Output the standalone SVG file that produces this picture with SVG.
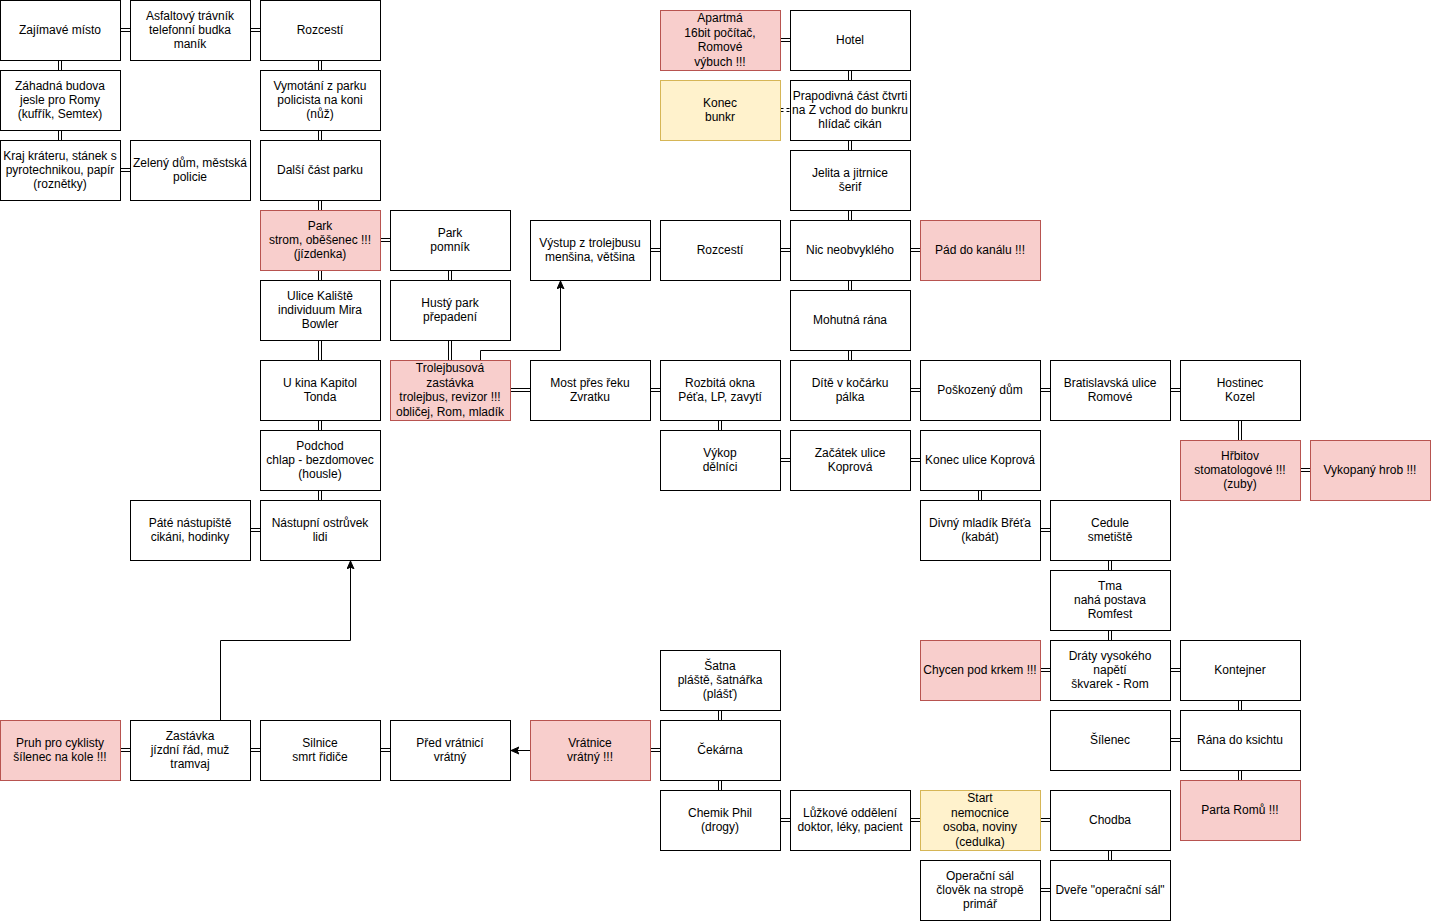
<svg xmlns="http://www.w3.org/2000/svg" width="1432" height="921" viewBox="0 0 1432 921">
<style>
rect{fill:#ffffff;stroke:#000000;stroke-width:1}
rect.red{fill:#f8cecc;stroke:#b85450}
rect.yel{fill:#fff2cc;stroke:#d6b656}
text{font-family:"Liberation Sans",Arial,sans-serif;font-size:12px;fill:#000000;text-anchor:middle}
.lk{fill:none;stroke:#000000;stroke-width:1}
.dash{stroke-dasharray:3 3}
.ar{fill:none;stroke:#000000;stroke-width:1;marker-end:url(#arr)}
</style>
<defs>
<marker id="arr" markerUnits="userSpaceOnUse" markerWidth="10" markerHeight="10" viewBox="0 0 10 10" refX="8" refY="4" orient="auto">
<path d="M0,0.5 L8,4 L0,7.5 L2,4 Z" fill="#000000" stroke="#000000" stroke-width="1"/>
</marker>
</defs>
<rect x="0" y="0" width="1432" height="921" style="fill:#ffffff;stroke:none"/>

<g id="connectors">
<path class="lk" d="M120.5 28.5H130.5M120.5 31.5H130.5M250.5 28.5H260.5M250.5 31.5H260.5"/>
<path class="lk" d="M120.5 168.5H130.5M120.5 171.5H130.5"/>
<path class="lk" d="M380.5 238.5H390.5M380.5 241.5H390.5"/>
<path class="lk" d="M250.5 528.5H260.5M250.5 531.5H260.5"/>
<path class="lk" d="M510.5 388.5H530.5M510.5 391.5H530.5M650.5 388.5H660.5M650.5 391.5H660.5M910.5 388.5H920.5M910.5 391.5H920.5M1040.5 388.5H1050.5M1040.5 391.5H1050.5M1170.5 388.5H1180.5M1170.5 391.5H1180.5"/>
<path class="lk" d="M650.5 248.5H660.5M650.5 251.5H660.5M780.5 248.5H790.5M780.5 251.5H790.5M910.5 248.5H920.5M910.5 251.5H920.5"/>
<path class="lk" d="M780.5 458.5H790.5M780.5 461.5H790.5M910.5 458.5H920.5M910.5 461.5H920.5"/>
<path class="lk" d="M780.5 38.5H790.5M780.5 41.5H790.5"/>
<path class="lk dash" d="M780.5 108.5H790.5M780.5 111.5H790.5"/>
<path class="lk" d="M1300.5 468.5H1310.5M1300.5 471.5H1310.5"/>
<path class="lk" d="M1040.5 528.5H1050.5M1040.5 531.5H1050.5"/>
<path class="lk" d="M1040.5 668.5H1050.5M1040.5 671.5H1050.5M1170.5 668.5H1180.5M1170.5 671.5H1180.5"/>
<path class="lk" d="M1170.5 738.5H1180.5M1170.5 741.5H1180.5"/>
<path class="lk" d="M1040.5 818.5H1050.5M1040.5 821.5H1050.5M910.5 818.5H920.5M910.5 821.5H920.5M780.5 818.5H790.5M780.5 821.5H790.5"/>
<path class="lk" d="M1040.5 888.5H1050.5M1040.5 891.5H1050.5"/>
<path class="lk" d="M650.5 748.5H660.5M650.5 751.5H660.5M380.5 748.5H390.5M380.5 751.5H390.5M250.5 748.5H260.5M250.5 751.5H260.5M120.5 748.5H130.5M120.5 751.5H130.5"/>
<path class="lk" d="M58.5 60.5V70.5M61.5 60.5V70.5M58.5 130.5V140.5M61.5 130.5V140.5"/>
<path class="lk" d="M318.5 60.5V70.5M321.5 60.5V70.5M318.5 130.5V140.5M321.5 130.5V140.5M318.5 200.5V210.5M321.5 200.5V210.5M318.5 270.5V280.5M321.5 270.5V280.5M318.5 340.5V360.5M321.5 340.5V360.5M318.5 420.5V430.5M321.5 420.5V430.5M318.5 490.5V500.5M321.5 490.5V500.5"/>
<path class="lk" d="M448.5 270.5V280.5M451.5 270.5V280.5M448.5 340.5V360.5M451.5 340.5V360.5"/>
<path class="lk" d="M718.5 420.5V430.5M721.5 420.5V430.5M718.5 710.5V720.5M721.5 710.5V720.5M718.5 780.5V790.5M721.5 780.5V790.5"/>
<path class="lk" d="M848.5 70.5V80.5M851.5 70.5V80.5M848.5 140.5V150.5M851.5 140.5V150.5M848.5 210.5V220.5M851.5 210.5V220.5M848.5 280.5V290.5M851.5 280.5V290.5M848.5 350.5V360.5M851.5 350.5V360.5"/>
<path class="lk" d="M1238.5 420.5V440.5M1241.5 420.5V440.5M1238.5 700.5V710.5M1241.5 700.5V710.5M1238.5 770.5V780.5M1241.5 770.5V780.5"/>
<path class="lk" d="M978.5 490.5V500.5M981.5 490.5V500.5"/>
<path class="lk" d="M1108.5 560.5V570.5M1111.5 560.5V570.5M1108.5 630.5V640.5M1111.5 630.5V640.5M1108.5 850.5V860.5M1111.5 850.5V860.5"/>
<path class="ar" d="M480.5 360.5V350.5H560.5V281"/>
<path class="ar" d="M220.5 720.5V640.5H350.5V561"/>
<path class="ar" d="M530.5 750.5H511"/>
</g>

<g id="n1"><rect x="0.5" y="0.5" width="120" height="60"/><text><tspan x="60" y="34">Zajímavé místo</tspan></text></g>
<g id="n2"><rect x="130.5" y="0.5" width="120" height="60"/><text><tspan x="190" y="19.6">Asfaltový trávník</tspan><tspan x="190" y="34">telefonní budka</tspan><tspan x="190" y="48.4">maník</tspan></text></g>
<g id="n3"><rect x="260.5" y="0.5" width="120" height="60"/><text><tspan x="320" y="34">Rozcestí</tspan></text></g>
<g id="n4"><rect x="0.5" y="70.5" width="120" height="60"/><text><tspan x="60" y="89.6">Záhadná budova</tspan><tspan x="60" y="104">jesle pro Romy</tspan><tspan x="60" y="118.4">(kufřík, Semtex)</tspan></text></g>
<g id="n5"><rect x="260.5" y="70.5" width="120" height="60"/><text><tspan x="320" y="89.6">Vymotání z parku</tspan><tspan x="320" y="104">policista na koni</tspan><tspan x="320" y="118.4">(nůž)</tspan></text></g>
<g id="n6"><rect x="0.5" y="140.5" width="120" height="60"/><text><tspan x="60" y="159.6">Kraj kráteru, stánek s</tspan><tspan x="60" y="174">pyrotechnikou, papír</tspan><tspan x="60" y="188.4">(roznětky)</tspan></text></g>
<g id="n7"><rect x="130.5" y="140.5" width="120" height="60"/><text><tspan x="190" y="166.8">Zelený dům, městská</tspan><tspan x="190" y="181.2">policie</tspan></text></g>
<g id="n8"><rect x="260.5" y="140.5" width="120" height="60"/><text><tspan x="320" y="174">Další část parku</tspan></text></g>
<g id="n9"><rect class="red" x="260.5" y="210.5" width="120" height="60"/><text><tspan x="320" y="229.6">Park</tspan><tspan x="320" y="244">strom, oběšenec !!!</tspan><tspan x="320" y="258.4">(jízdenka)</tspan></text></g>
<g id="n10"><rect x="390.5" y="210.5" width="120" height="60"/><text><tspan x="450" y="236.8">Park</tspan><tspan x="450" y="251.2">pomník</tspan></text></g>
<g id="n11"><rect x="260.5" y="280.5" width="120" height="60"/><text><tspan x="320" y="299.6">Ulice Kaliště</tspan><tspan x="320" y="314">individuum Mira</tspan><tspan x="320" y="328.4">Bowler</tspan></text></g>
<g id="n12"><rect x="390.5" y="280.5" width="120" height="60"/><text><tspan x="450" y="306.8">Hustý park</tspan><tspan x="450" y="321.2">přepadení</tspan></text></g>
<g id="n13"><rect x="260.5" y="360.5" width="120" height="60"/><text><tspan x="320" y="386.8">U kina Kapitol</tspan><tspan x="320" y="401.2">Tonda</tspan></text></g>
<g id="n14"><rect class="red" x="390.5" y="360.5" width="120" height="60"/><text><tspan x="450" y="372.4">Trolejbusová</tspan><tspan x="450" y="386.8">zastávka</tspan><tspan x="450" y="401.2">trolejbus, revizor !!!</tspan><tspan x="450" y="415.6">obličej, Rom, mladík</tspan></text></g>
<g id="n15"><rect x="260.5" y="430.5" width="120" height="60"/><text><tspan x="320" y="449.6">Podchod</tspan><tspan x="320" y="464">chlap - bezdomovec</tspan><tspan x="320" y="478.4">(housle)</tspan></text></g>
<g id="n16"><rect x="130.5" y="500.5" width="120" height="60"/><text><tspan x="190" y="526.8">Páté nástupiště</tspan><tspan x="190" y="541.2">cikáni, hodinky</tspan></text></g>
<g id="n17"><rect x="260.5" y="500.5" width="120" height="60"/><text><tspan x="320" y="526.8">Nástupní ostrůvek</tspan><tspan x="320" y="541.2">lidi</tspan></text></g>
<g id="n18"><rect x="530.5" y="220.5" width="120" height="60"/><text><tspan x="590" y="246.8">Výstup z trolejbusu</tspan><tspan x="590" y="261.2">menšina, většina</tspan></text></g>
<g id="n19"><rect x="530.5" y="360.5" width="120" height="60"/><text><tspan x="590" y="386.8">Most přes řeku</tspan><tspan x="590" y="401.2">Zvratku</tspan></text></g>
<g id="n20"><rect x="660.5" y="220.5" width="120" height="60"/><text><tspan x="720" y="254">Rozcestí</tspan></text></g>
<g id="n21"><rect x="660.5" y="360.5" width="120" height="60"/><text><tspan x="720" y="386.8">Rozbitá okna</tspan><tspan x="720" y="401.2">Péťa, LP, zavytí</tspan></text></g>
<g id="n22"><rect x="660.5" y="430.5" width="120" height="60"/><text><tspan x="720" y="456.8">Výkop</tspan><tspan x="720" y="471.2">dělníci</tspan></text></g>
<g id="n23"><rect class="red" x="660.5" y="10.5" width="120" height="60"/><text><tspan x="720" y="22.4">Apartmá</tspan><tspan x="720" y="36.8">16bit počítač,</tspan><tspan x="720" y="51.2">Romové</tspan><tspan x="720" y="65.6">výbuch !!!</tspan></text></g>
<g id="n24"><rect class="yel" x="660.5" y="80.5" width="120" height="60"/><text><tspan x="720" y="106.8">Konec</tspan><tspan x="720" y="121.2">bunkr</tspan></text></g>
<g id="n25"><rect x="790.5" y="10.5" width="120" height="60"/><text><tspan x="850" y="44">Hotel</tspan></text></g>
<g id="n26"><rect x="790.5" y="80.5" width="120" height="60"/><text><tspan x="850" y="99.6">Prapodivná část čtvrti</tspan><tspan x="850" y="114">na Z vchod do bunkru</tspan><tspan x="850" y="128.4">hlídač cikán</tspan></text></g>
<g id="n27"><rect x="790.5" y="150.5" width="120" height="60"/><text><tspan x="850" y="176.8">Jelita a jitrnice</tspan><tspan x="850" y="191.2">šerif</tspan></text></g>
<g id="n28"><rect x="790.5" y="220.5" width="120" height="60"/><text><tspan x="850" y="254">Nic neobvyklého</tspan></text></g>
<g id="n29"><rect class="red" x="920.5" y="220.5" width="120" height="60"/><text><tspan x="980" y="254">Pád do kanálu !!!</tspan></text></g>
<g id="n30"><rect x="790.5" y="290.5" width="120" height="60"/><text><tspan x="850" y="324">Mohutná rána</tspan></text></g>
<g id="n31"><rect x="790.5" y="360.5" width="120" height="60"/><text><tspan x="850" y="386.8">Dítě v kočárku</tspan><tspan x="850" y="401.2">pálka</tspan></text></g>
<g id="n32"><rect x="790.5" y="430.5" width="120" height="60"/><text><tspan x="850" y="456.8">Začátek ulice</tspan><tspan x="850" y="471.2">Koprová</tspan></text></g>
<g id="n33"><rect x="920.5" y="360.5" width="120" height="60"/><text><tspan x="980" y="394">Poškozený dům</tspan></text></g>
<g id="n34"><rect x="920.5" y="430.5" width="120" height="60"/><text><tspan x="980" y="464">Konec ulice Koprová</tspan></text></g>
<g id="n35"><rect x="920.5" y="500.5" width="120" height="60"/><text><tspan x="980" y="526.8">Divný mladík Břéťa</tspan><tspan x="980" y="541.2">(kabát)</tspan></text></g>
<g id="n36"><rect x="1050.5" y="360.5" width="120" height="60"/><text><tspan x="1110" y="386.8">Bratislavská ulice</tspan><tspan x="1110" y="401.2">Romové</tspan></text></g>
<g id="n37"><rect x="1180.5" y="360.5" width="120" height="60"/><text><tspan x="1240" y="386.8">Hostinec</tspan><tspan x="1240" y="401.2">Kozel</tspan></text></g>
<g id="n38"><rect class="red" x="1180.5" y="440.5" width="120" height="60"/><text><tspan x="1240" y="459.6">Hřbitov</tspan><tspan x="1240" y="474">stomatologové !!!</tspan><tspan x="1240" y="488.4">(zuby)</tspan></text></g>
<g id="n39"><rect class="red" x="1310.5" y="440.5" width="120" height="60"/><text><tspan x="1370" y="474">Vykopaný hrob !!!</tspan></text></g>
<g id="n40"><rect x="1050.5" y="500.5" width="120" height="60"/><text><tspan x="1110" y="526.8">Cedule</tspan><tspan x="1110" y="541.2">smetiště</tspan></text></g>
<g id="n41"><rect x="1050.5" y="570.5" width="120" height="60"/><text><tspan x="1110" y="589.6">Tma</tspan><tspan x="1110" y="604">nahá postava</tspan><tspan x="1110" y="618.4">Romfest</tspan></text></g>
<g id="n42"><rect class="red" x="920.5" y="640.5" width="120" height="60"/><text><tspan x="980" y="674">Chycen pod krkem !!!</tspan></text></g>
<g id="n43"><rect x="1050.5" y="640.5" width="120" height="60"/><text><tspan x="1110" y="659.6">Dráty vysokého</tspan><tspan x="1110" y="674">napětí</tspan><tspan x="1110" y="688.4">škvarek - Rom</tspan></text></g>
<g id="n44"><rect x="1180.5" y="640.5" width="120" height="60"/><text><tspan x="1240" y="674">Kontejner</tspan></text></g>
<g id="n45"><rect x="1050.5" y="710.5" width="120" height="60"/><text><tspan x="1110" y="744">Šílenec</tspan></text></g>
<g id="n46"><rect x="1180.5" y="710.5" width="120" height="60"/><text><tspan x="1240" y="744">Rána do ksichtu</tspan></text></g>
<g id="n47"><rect class="red" x="1180.5" y="780.5" width="120" height="60"/><text><tspan x="1240" y="814">Parta Romů !!!</tspan></text></g>
<g id="n48"><rect class="yel" x="920.5" y="790.5" width="120" height="60"/><text><tspan x="980" y="802.4">Start</tspan><tspan x="980" y="816.8">nemocnice</tspan><tspan x="980" y="831.2">osoba, noviny</tspan><tspan x="980" y="845.6">(cedulka)</tspan></text></g>
<g id="n49"><rect x="1050.5" y="790.5" width="120" height="60"/><text><tspan x="1110" y="824">Chodba</tspan></text></g>
<g id="n50"><rect x="920.5" y="860.5" width="120" height="60"/><text><tspan x="980" y="879.6">Operační sál</tspan><tspan x="980" y="894">člověk na stropě</tspan><tspan x="980" y="908.4">primář</tspan></text></g>
<g id="n51"><rect x="1050.5" y="860.5" width="120" height="60"/><text><tspan x="1110" y="894">Dveře "operační sál"</tspan></text></g>
<g id="n52"><rect x="790.5" y="790.5" width="120" height="60"/><text><tspan x="850" y="816.8">Lůžkové oddělení</tspan><tspan x="850" y="831.2">doktor, léky, pacient</tspan></text></g>
<g id="n53"><rect x="660.5" y="790.5" width="120" height="60"/><text><tspan x="720" y="816.8">Chemik Phil</tspan><tspan x="720" y="831.2">(drogy)</tspan></text></g>
<g id="n54"><rect x="660.5" y="720.5" width="120" height="60"/><text><tspan x="720" y="754">Čekárna</tspan></text></g>
<g id="n55"><rect x="660.5" y="650.5" width="120" height="60"/><text><tspan x="720" y="669.6">Šatna</tspan><tspan x="720" y="684">pláště, šatnářka</tspan><tspan x="720" y="698.4">(plášť)</tspan></text></g>
<g id="n56"><rect class="red" x="530.5" y="720.5" width="120" height="60"/><text><tspan x="590" y="746.8">Vrátnice</tspan><tspan x="590" y="761.2">vrátný !!!</tspan></text></g>
<g id="n57"><rect x="390.5" y="720.5" width="120" height="60"/><text><tspan x="450" y="746.8">Před vrátnicí</tspan><tspan x="450" y="761.2">vrátný</tspan></text></g>
<g id="n58"><rect x="260.5" y="720.5" width="120" height="60"/><text><tspan x="320" y="746.8">Silnice</tspan><tspan x="320" y="761.2">smrt řidiče</tspan></text></g>
<g id="n59"><rect x="130.5" y="720.5" width="120" height="60"/><text><tspan x="190" y="739.6">Zastávka</tspan><tspan x="190" y="754">jízdní řád, muž</tspan><tspan x="190" y="768.4">tramvaj</tspan></text></g>
<g id="n60"><rect class="red" x="0.5" y="720.5" width="120" height="60"/><text><tspan x="60" y="746.8">Pruh pro cyklisty</tspan><tspan x="60" y="761.2">šílenec na kole !!!</tspan></text></g>
</svg>
